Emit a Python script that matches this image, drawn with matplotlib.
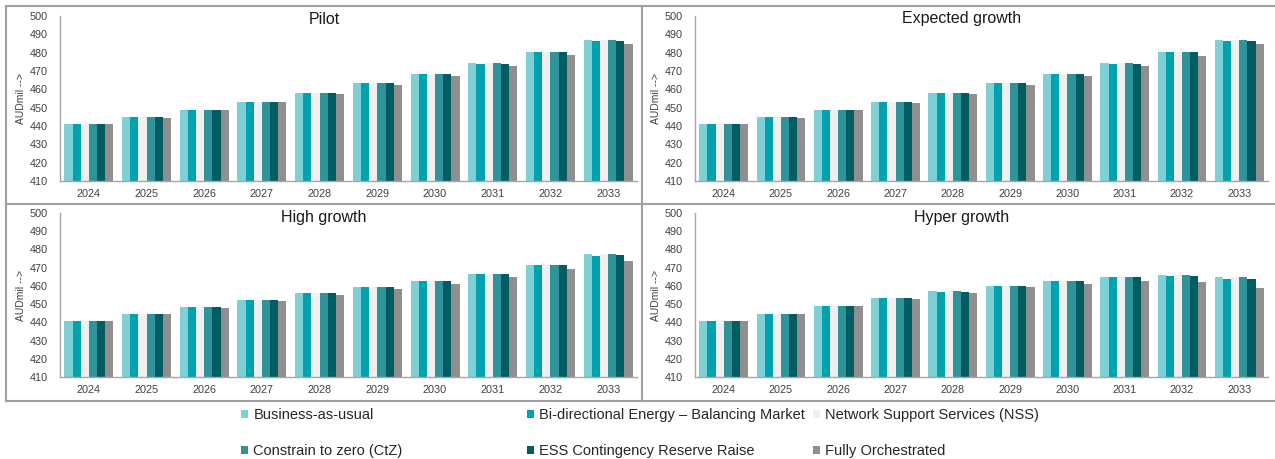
import matplotlib
matplotlib.use("Agg")
import matplotlib.pyplot as plt
from matplotlib.patches import Patch
from matplotlib.lines import Line2D
import numpy as np

plt.rcParams['font.family'] = ['Liberation Sans', 'DejaVu Sans']

years = ['2024', '2025', '2026', '2027', '2028', '2029', '2030', '2031', '2032', '2033']

series_names = [
    'Business-as-usual',
    'Bi-directional Energy \u2013 Balancing Market',
    'Network Support Services (NSS)',
    'Constrain to zero (CtZ)',
    'ESS Contingency Reserve Raise',
    'Fully Orchestrated',
]
series_colors = ['#7FD0D6', '#00A3AD', '#EFEFEF', '#31939A', '#005E63', '#8F8F8F']

# AUD million, one list per series, per scenario
pilot = [
    [441.0, 444.7, 448.7, 453.3, 458.0, 463.2, 468.5, 474.2, 480.3, 487.0],
    [441.0, 444.7, 448.7, 453.3, 458.0, 463.2, 468.5, 474.0, 480.2, 486.5],
    [441.0, 444.7, 448.7, 453.3, 458.0, 463.2, 468.5, 474.2, 480.3, 487.0],
    [441.0, 444.7, 448.7, 453.3, 458.0, 463.2, 468.5, 474.2, 480.3, 487.0],
    [441.0, 444.7, 448.7, 453.3, 458.0, 463.2, 468.5, 474.0, 480.2, 486.5],
    [441.0, 444.5, 448.5, 452.9, 457.3, 462.3, 467.3, 472.8, 478.7, 484.6],
]
expected = [
    [441.0, 444.7, 448.7, 453.2, 458.0, 463.2, 468.4, 474.1, 480.2, 486.9],
    [441.0, 444.7, 448.7, 453.2, 458.0, 463.2, 468.4, 473.9, 480.1, 486.4],
    [441.0, 444.7, 448.7, 453.2, 458.0, 463.2, 468.4, 474.1, 480.2, 486.9],
    [441.0, 444.7, 448.7, 453.2, 458.0, 463.2, 468.4, 474.1, 480.2, 486.9],
    [441.0, 444.7, 448.7, 453.2, 458.0, 463.2, 468.4, 473.9, 480.1, 486.4],
    [441.0, 444.5, 448.5, 452.6, 457.3, 462.1, 467.2, 472.5, 478.3, 484.5],
]
high = [
    [441.0, 444.6, 448.3, 452.3, 456.0, 459.5, 462.8, 466.7, 471.5, 477.3],
    [441.0, 444.6, 448.3, 452.3, 455.9, 459.3, 462.8, 466.5, 471.2, 476.5],
    [441.0, 444.6, 448.3, 452.3, 456.0, 459.5, 462.8, 466.7, 471.5, 477.3],
    [441.0, 444.6, 448.3, 452.3, 456.0, 459.5, 462.8, 466.7, 471.5, 477.3],
    [441.0, 444.6, 448.3, 452.3, 455.9, 459.3, 462.8, 466.5, 471.2, 476.7],
    [441.0, 444.4, 448.0, 451.5, 455.0, 458.2, 461.2, 464.7, 469.0, 473.7],
]
hyper = [
    [441.0, 444.8, 449.0, 453.2, 457.0, 460.2, 462.8, 465.0, 466.0, 465.0],
    [441.0, 444.7, 448.9, 453.1, 456.9, 460.0, 462.7, 464.7, 465.2, 463.8],
    [441.0, 444.8, 449.0, 453.2, 457.0, 460.2, 462.8, 465.0, 466.0, 465.0],
    [441.0, 444.8, 449.0, 453.2, 457.0, 460.2, 462.8, 465.0, 466.0, 465.0],
    [441.0, 444.7, 448.9, 453.1, 456.9, 460.0, 462.7, 464.7, 465.3, 464.0],
    [441.0, 444.5, 448.7, 452.6, 456.2, 459.2, 461.3, 462.5, 462.0, 458.7],
]

panels = [
    ('Pilot', pilot),
    ('Expected growth', expected),
    ('High growth', high),
    ('Hyper growth', hyper),
]

W, H = 1275, 459
fig = plt.figure(figsize=(W / 100, H / 100), dpi=100)

def px_rect(x0, x1, ytop, ybot):
    return [x0 / W, 1 - ybot / H, (x1 - x0) / W, (ybot - ytop) / H]

axes_rects = [
    px_rect(60, 637, 16, 181),
    px_rect(695, 1268, 16, 181),
    px_rect(60, 637, 213, 377),
    px_rect(695, 1268, 213, 377),
]
# panel box centres (px) used for titles
title_pos = [(324, 19), (962, 19), (324, 218), (962, 218)]
ylabel_x = [21, 656, 21, 656]

axis_grey = '#A6A6A6'
text_grey = '#404040'

n = len(series_names)
group = 0.85
bw = group / n
x = np.arange(len(years))

for (title, data), rect, (tx, ty), ylx in zip(panels, axes_rects, title_pos, ylabel_x):
    ax = fig.add_axes(rect)
    for i, (vals, col) in enumerate(zip(data, series_colors)):
        offs = -group / 2 + bw * (i + 0.5)
        ax.bar(x + offs, vals, width=bw, color=col, linewidth=0)
    ax.set_xlim(-0.5, len(years) - 0.5)
    ax.set_ylim(410, 500)
    ax.set_yticks(np.arange(410, 501, 10))
    ax.set_xticks(x)
    ax.set_xticklabels(years)
    for s in ['top', 'right']:
        ax.spines[s].set_visible(False)
    for s in ['left', 'bottom']:
        ax.spines[s].set_color(axis_grey)
        ax.spines[s].set_linewidth(1.0)
    ax.tick_params(axis='both', length=0, labelsize=7.8, colors=text_grey)
    ax.tick_params(axis='y', pad=9)
    ax.tick_params(axis='x', pad=6)
    fig.text(tx / W, 1 - ty / H, title, ha='center', va='center',
             fontsize=11.5, color='#1a1a1a')
    ylab_y = (rect[1] + rect[3] / 2)
    fig.text(ylx / W, ylab_y, 'AUDmil -->', rotation=90, ha='center',
             va='center', fontsize=7.5, color=text_grey)

# panel frame lines
frame_col = '#A0A0A0'
def hline(y, x0, x1):
    fig.add_artist(Line2D([x0 / W, x1 / W], [1 - y / H, 1 - y / H],
                          color=frame_col, linewidth=1.5))
def vline(xp, y0, y1):
    fig.add_artist(Line2D([xp / W, xp / W], [1 - y0 / H, 1 - y1 / H],
                          color=frame_col, linewidth=1.5))

hline(5.5, 6, W)
hline(204, 6, W)
hline(400.5, 6, W)
vline(6, 5.5, 400.5)
vline(642, 5.5, 400.5)

# legend, three columns of two entries
columns = [(0, 3), (1, 4), (2, 5)]
col_x = [241, 527, 813]
for (a, b), cx in zip(columns, col_x):
    handles = [Patch(facecolor=series_colors[k], edgecolor='none', label=series_names[k])
               for k in (a, b)]
    fig.legend(handles=handles, loc='upper left',
               bbox_to_anchor=(cx / W, 1 - 408 / H),
               frameon=False, fontsize=10.5, handlelength=0.5, handleheight=0.5,
               handletextpad=0.35, labelspacing=1.5, borderpad=0, borderaxespad=0,
               labelcolor='#262626')

fig.savefig('out.png', dpi=100)
